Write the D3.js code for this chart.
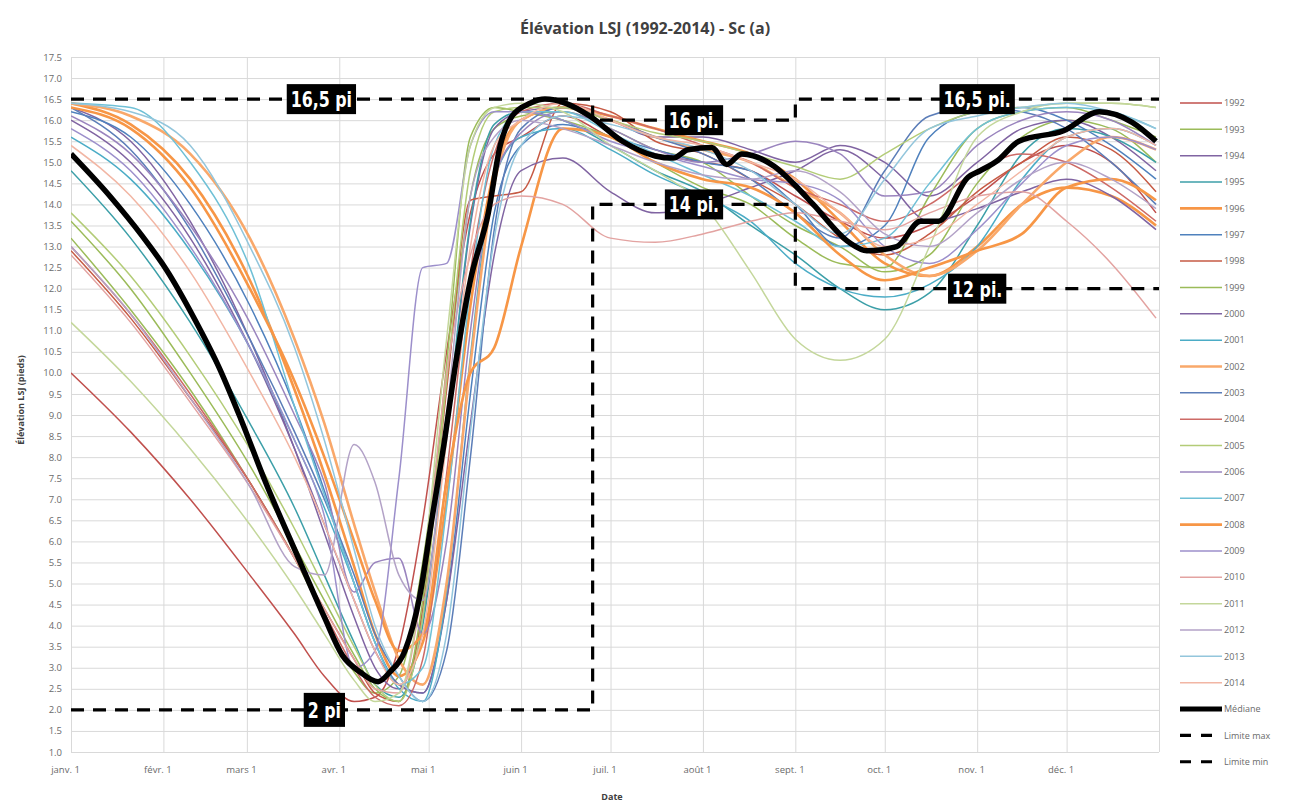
<!DOCTYPE html>
<html>
<head>
<meta charset="utf-8">
<script src="https://cdn.jsdelivr.net/npm/d3@7"></script>
<style>
  body { margin: 0; background: #fff; }
  .axis text { fill: #6a6a6a; font-family: "Open Sans", Lato, sans-serif; font-size: 9.5px; }
  .axis line { stroke: #d9d9d9; }
  .axis path { display: none; }
</style>
</head>
<body>
<svg id="chart" width="1293" height="806"></svg>
<script>
// ---- data ----
const years = ["1992","1993","1994","1995","1996","1997","1998","1999","2000","2001","2002",
               "2003","2004","2005","2006","2007","2008","2009","2010","2011","2012","2013","2014"];
const colors = ["#C0504D","#9BBB59","#8064A2","#3C9FA8","#F79646","#4F81BD","#C65A44","#9BBB59",
                "#8064A2","#4BACC6","#F9A86A","#5B7DB8","#CD6A66","#B3CC77","#9A84BE","#6FC0D6",
                "#F79646","#9C8FCB","#E3A3A1","#C4D79B","#B3A2C7","#93C6DC","#F2B6A4"];
const widths = [1.5,1.5,1.5,1.5,2.6,1.5,1.5,1.5,1.5,1.5,2.6,1.5,1.5,1.5,1.5,1.5,2.6,1.5,1.5,1.5,1.5,1.5,1.5];

// day of year (0 = Jan 1)
const days = [0,20,40,60,75,85,95,102,110,118,126,134,142,151,165,181,196,212,228,243,258,273,288,304,319,334,349,364];

const levels = [
  [10.0,8.6,7.0,5.2,3.8,2.8,2.2,2.3,3.5,6.5,10.5,13.8,15.2,15.6,16.1,15.6,15.2,15.0,14.8,14.2,13.6,13.2,13.5,14.2,15.0,15.4,15.0,13.8],
  [13.2,11.5,9.6,7.4,5.6,4.2,2.9,2.4,2.8,5.5,9.8,14.2,15.8,16.1,16.2,15.8,15.3,15.0,14.2,13.5,13.0,12.4,12.8,14.5,15.6,16.0,15.8,15.0],
  [16.3,15.5,13.6,10.8,8.2,6.2,4.2,3.0,2.5,4.2,8.5,13.5,15.8,16.2,16.3,16.0,15.6,15.6,15.3,15.0,15.4,15.0,14.2,15.0,15.8,16.0,15.6,14.8],
  [14.8,13.2,11.2,8.8,6.8,5.2,3.6,2.6,2.3,4.0,8.6,13.6,15.9,16.2,16.0,15.4,14.8,14.3,13.5,12.8,12.0,11.5,11.9,13.5,15.2,15.8,15.6,15.0],
  [16.4,15.9,14.6,12.2,9.6,7.6,5.4,3.8,2.8,3.6,7.0,11.6,14.8,16.0,16.3,16.1,15.8,15.5,15.2,14.6,13.6,12.6,12.3,13.0,14.0,14.4,14.2,13.5],
  [16.2,15.6,14.0,11.6,9.2,7.2,5.0,3.6,2.6,2.4,4.6,9.5,13.8,15.4,15.9,15.6,15.3,15.0,14.8,14.0,13.0,13.5,15.6,16.2,16.3,16.0,15.4,14.6],
  [12.9,11.3,9.4,7.4,5.6,4.4,3.2,2.4,2.2,4.4,9.6,14.1,14.2,14.3,16.4,16.2,15.5,15.2,14.6,14.0,13.2,12.8,13.3,14.3,15.0,15.6,15.3,14.3],
  [13.6,12.0,10.0,7.8,5.9,4.6,3.3,2.5,2.2,4.6,10.2,15.6,16.3,16.2,16.0,15.6,15.0,14.4,14.0,13.2,12.6,12.5,14.2,15.8,16.2,16.3,16.0,15.6],
  [16.0,15.0,13.2,10.6,8.2,6.4,4.6,3.4,2.6,2.4,4.6,8.8,12.8,14.8,15.1,14.3,13.8,14.0,14.4,14.8,15.3,14.6,13.6,13.9,14.3,14.6,14.2,13.4],
  [15.6,14.6,12.9,10.6,8.4,6.8,5.0,3.6,2.5,2.2,4.8,10.4,14.6,15.6,15.8,15.3,14.7,14.2,13.6,12.6,12.0,11.8,12.1,13.0,14.6,15.6,15.8,15.4],
  [16.4,16.1,15.2,13.2,10.8,8.8,6.4,4.8,3.2,2.6,5.0,10.2,14.5,16.0,16.3,16.0,15.6,15.3,15.0,14.4,13.8,12.8,12.3,12.9,14.0,15.0,15.6,15.3],
  [16.3,15.3,13.4,10.8,8.6,7.0,5.2,3.8,2.8,2.2,3.4,8.0,13.4,15.8,16.3,16.0,15.6,15.2,14.6,13.8,13.2,14.8,16.1,16.3,16.2,15.8,15.0,14.0],
  [13.0,11.4,9.5,7.4,5.6,4.3,3.0,2.3,2.1,3.2,7.6,12.4,15.2,16.2,16.4,16.1,15.8,15.4,15.0,14.4,14.0,13.6,14.0,14.8,15.2,15.0,14.4,13.6],
  [13.8,12.3,10.4,8.2,6.3,4.9,3.5,2.6,2.2,4.2,9.8,14.8,16.2,16.3,16.3,16.0,15.7,15.5,15.2,14.9,14.6,15.2,15.8,16.2,16.3,16.4,16.4,16.3],
  [16.1,15.2,13.5,11.2,9.0,7.4,4.8,5.5,5.6,3.8,6.0,11.0,14.6,15.7,16.2,15.8,15.3,15.0,15.2,15.5,15.2,14.2,14.3,15.4,16.0,16.2,16.0,15.4],
  [16.4,16.3,15.0,12.5,9.2,7.1,5.0,3.6,2.6,3.0,6.8,12.0,15.4,16.2,16.2,15.7,15.2,14.7,14.2,13.6,13.0,13.2,14.5,15.8,16.2,16.3,16.2,15.8],
  [16.3,15.8,14.4,12.0,9.8,8.0,6.0,4.6,3.4,3.8,7.4,10.0,10.6,13.0,15.8,15.6,15.0,14.6,14.4,13.8,12.8,12.2,12.5,12.9,13.3,14.4,14.6,14.1],
  [15.8,14.8,13.0,10.6,8.4,6.6,3.0,3.4,7.5,12.5,12.6,15.4,16.2,16.2,16.0,15.5,15.2,14.9,14.6,14.5,14.1,13.0,12.6,13.4,14.5,15.4,15.6,15.3],
  [12.8,11.2,9.3,7.3,5.6,4.4,3.2,2.5,2.4,5.0,10.0,12.8,14.0,14.2,14.0,13.2,13.1,13.3,13.6,13.8,13.6,13.4,13.8,14.2,14.3,13.6,12.6,11.3],
  [11.2,9.8,8.2,6.4,4.9,3.8,2.7,2.2,2.4,5.2,10.8,15.4,16.3,16.4,16.2,15.4,14.8,14.0,12.4,10.8,10.3,10.8,13.0,15.6,16.2,16.4,16.4,16.3],
  [13.0,11.4,9.4,7.3,5.4,5.2,8.3,7.4,5.2,4.6,9.0,14.2,15.6,16.0,15.8,15.4,15.0,14.7,14.6,14.8,14.3,13.3,13.0,13.8,14.6,15.0,14.6,13.9],
  [16.4,16.2,15.4,13.0,10.6,8.4,5.8,4.0,2.8,2.2,3.8,8.6,13.2,15.4,16.1,15.9,15.6,15.3,14.8,14.0,13.3,14.6,15.8,16.1,16.3,16.4,16.2,15.8],
  [15.4,14.2,12.4,10.0,8.0,6.4,4.6,3.4,2.6,3.8,8.4,13.0,15.4,16.0,16.4,16.0,15.6,15.4,15.0,14.6,13.8,13.0,13.2,14.0,14.8,15.6,15.8,15.4]
];

const medDays = [0,13,24,32,41,50,57,65,76,85,91,97,103,107,112,117,121,125,129,134,140,144,148,154,159,166,174,185,196,202,207,215,
                 220,225,236,243,249,261,267,277,285,291,301,305,311,318,333,345,356,364];
const medVals = [15.2,14.2,13.24,12.45,11.34,10.08,8.9,7.45,5.65,4.2,3.3,2.9,2.67,2.9,3.4,4.7,6.5,8.25,10.2,12.2,13.8,15.4,16.1,16.4,16.5,16.4,16.1,15.5,15.15,15.1,15.3,15.35,
                 14.95,15.2,14.9,14.45,14.0,13.1,12.9,13.0,13.6,13.6,14.65,14.8,15.05,15.5,15.75,16.2,15.95,15.5];

const limDays = [0,175,175,243,243,365];
const maxVals = [16.5,16.5,16.0,16.0,16.5,16.5];
const minVals = [2.0,2.0,14.0,14.0,12.0,12.0];

const noteTexts = ["16,5 pi","16 pi.","14 pi.","16,5 pi.","12 pi.","2 pi"];
const noteDays = [84,209,209,304,304,85];
const noteVals = [16.5,16.0,14.0,16.5,12.0,2.0];

const monthDays = [0,31,59,90,120,151,181,212,243,273,304,334,365];
const monthLabels = ["janv. 1","févr. 1","mars 1","avr. 1","mai 1","juin 1","juil. 1","août 1","sept. 1","oct. 1","nov. 1","déc. 1",""];
const yTicks = [1.0,1.5,2.0,2.5,3.0,3.5,4.0,4.5,5.0,5.5,6.0,6.5,7.0,7.5,8.0,8.5,9.0,
                9.5,10.0,10.5,11.0,11.5,12.0,12.5,13.0,13.5,14.0,14.5,15.0,15.5,16.0,16.5,17.0,17.5];

// ---- drawing ----
const svg = d3.select('#chart');
const x = d3.scaleLinear().domain([0, 365]).range([71, 1159]);
const y = d3.scaleLinear().domain([1, 17.5]).range([752, 57]);

svg.append('rect').attr('width', 1293).attr('height', 806).attr('fill', '#fff');

// grid + axes
svg.append('g').attr('class', 'axis')
  .attr('transform', 'translate(71,0)')
  .call(d3.axisLeft(y).tickValues(yTicks).tickFormat(d3.format('.1f'))
    .tickSize(-(1159 - 71)).tickPadding(9));

const xAxis = svg.append('g').attr('class', 'axis')
  .attr('transform', 'translate(0,752)')
  .call(d3.axisBottom(x).tickValues(monthDays).tickFormat((d, i) => monthLabels[i])
    .tickSize(-(752 - 57)).tickPadding(14));
xAxis.selectAll('text').attr('dx', -6);

svg.append('defs').append('clipPath').attr('id', 'plot')
  .append('rect').attr('x', 71).attr('y', 57).attr('width', 1088).attr('height', 695);

const line = d3.line()
  .x(d => x(d[0])).y(d => y(d[1]))
  .curve(d3.curveMonotoneX);

const plot = svg.append('g').attr('clip-path', 'url(#plot)');

plot.selectAll('path.year')
  .data(levels)
  .enter().append('path')
    .attr('class', 'year')
    .attr('fill', 'none')
    .attr('stroke', (d, i) => colors[i])
    .attr('stroke-width', (d, i) => widths[i])
    .attr('stroke-linejoin', 'round')
    .attr('d', vals => line(vals.map((v, j) => [days[j], v])));

plot.append('path')
  .attr('fill', 'none').attr('stroke', '#000').attr('stroke-width', 5.5)
  .attr('stroke-linejoin', 'round')
  .attr('d', line(medVals.map((v, j) => [medDays[j], v])));

const limLine = d3.line().x(d => x(d[0])).y(d => y(d[1]));
[maxVals, minVals].forEach(vals => {
  svg.append('path')
    .attr('fill', 'none').attr('stroke', '#000').attr('stroke-width', 3.2)
    .attr('stroke-dasharray', '13,9')
    .attr('d', limLine(vals.map((v, j) => [limDays[j], v])));
});

// labels in black boxes
const notes = svg.append('g');
noteTexts.forEach((t, i) => {
  const g = notes.append('g').attr('transform', 'translate(' + x(noteDays[i]) + ',' + y(noteVals[i]) + ')');
  const rect = g.append('rect').attr('fill', '#000');
  const txt = g.append('text')
    .attr('text-anchor', 'middle').attr('dy', '0.36em')
    .attr('transform', 'scale(0.8,1)')
    .attr('fill', '#fff')
    .style('font-family', "'DejaVu Sans Condensed','Liberation Sans Narrow',sans-serif")
    .style('font-weight', 'bold').style('font-size', '22px')
    .text(t);
  const b = txt.node().getBBox();
  const h = t === '2 pi' ? 34 : 30;
  rect.attr('x', b.x * 0.8 - 4).attr('y', -h / 2).attr('width', b.width * 0.8 + 8).attr('height', h);
});

// title
svg.append('text')
  .attr('x', 645).attr('y', 34).attr('text-anchor', 'middle')
  .style('font-family', "'Open Sans', Lato, sans-serif").style('font-weight', 'bold')
  .style('font-size', '16px').attr('fill', '#404040')
  .text('Élévation LSJ (1992-2014) - Sc (a)');

// axis titles
svg.append('text')
  .attr('transform', 'translate(24,400) rotate(-90)').attr('text-anchor', 'middle')
  .style('font-family', "'Open Sans', Lato, sans-serif").style('font-weight', 'bold')
  .style('font-size', '9px').attr('fill', '#404040')
  .text('Élévation LSJ  (pieds)');
svg.append('text')
  .attr('x', 612).attr('y', 800).attr('text-anchor', 'middle')
  .style('font-family', "'Open Sans', Lato, sans-serif").style('font-weight', 'bold')
  .style('font-size', '9px').attr('fill', '#404040')
  .text('Date');

// legend
const legendNames = years.concat(['Médiane', 'Limite max', 'Limite min']);
const legend = svg.append('g').attr('transform', 'translate(1180,103)');
legendNames.forEach((name, i) => {
  const g = legend.append('g').attr('transform', 'translate(0,' + (i * 26.35) + ')');
  const ln = g.append('line').attr('x1', 0).attr('x2', 42).attr('y1', 0).attr('y2', 0);
  if (i < years.length) {
    ln.attr('stroke', colors[i]).attr('stroke-width', widths[i]);
  } else if (i === years.length) {
    ln.attr('stroke', '#000').attr('stroke-width', 5);
  } else {
    ln.attr('stroke', '#000').attr('stroke-width', 3.2).attr('stroke-dasharray', '11,10');
  }
  g.append('text').attr('x', 44).attr('dy', '0.35em')
    .style('font-family', "'Open Sans', Lato, sans-serif").style('font-size', '9px')
    .attr('fill', '#6a6a6a').text(name);
});
</script>
</body>
</html>
